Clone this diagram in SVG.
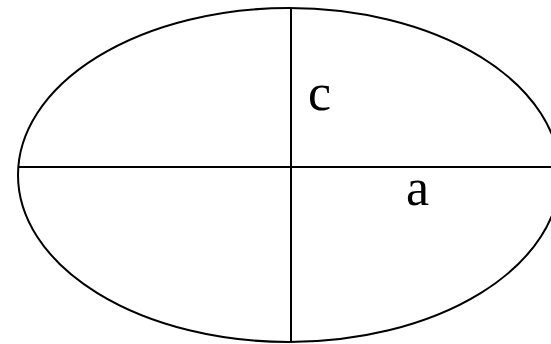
<svg xmlns="http://www.w3.org/2000/svg" width="551" height="344" viewBox="0 0 551 344">
<style>
.ln{stroke:#000;stroke-width:2;fill:none}
.lb{font-family:"Liberation Serif","Times New Roman",serif;font-size:52px;fill:#000}
</style>
<rect width="551" height="344" fill="#fff"/>
<g id="ellipse"><ellipse class="ln" cx="289" cy="175" rx="271" ry="167"/></g>
<g id="axes">
<line class="ln" x1="19" y1="167" x2="551" y2="167"/>
<line class="ln" x1="291" y1="8" x2="291" y2="342"/>
</g>
<g id="labels">
<text class="lb" x="308" y="110">c</text>
<text class="lb" x="406" y="205">a</text>
</g>
</svg>
